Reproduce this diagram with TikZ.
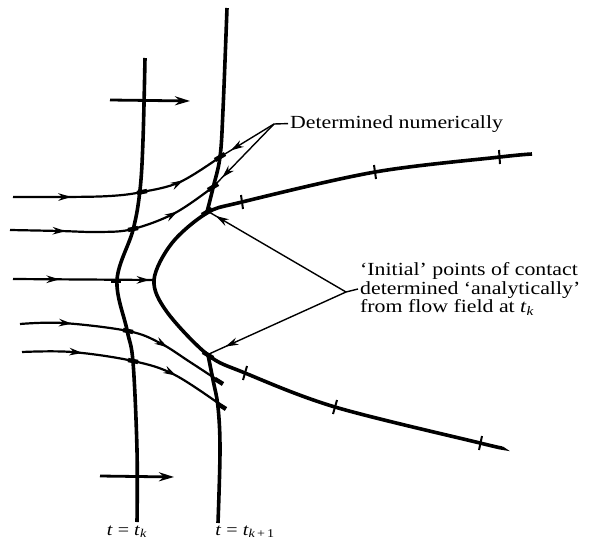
\documentclass[tikz,border=0pt]{standalone}
\usepackage{fontspec}
\setmainfont{Liberation Serif}
\newfontfamily\labelfont[FakeStretch=1.18]{Liberation Serif}
\usetikzlibrary{arrows.meta,decorations.markings}
\tikzset{
  thickcurve/.style={line width=3.6pt},
  stream/.style={line width=2.2pt},
  leader/.style={line width=1.4pt},
  midarrow/.style={postaction={decorate,decoration={markings,
      mark=at position #1 with {\arrow{Stealth[length=13pt,width=7.5pt]}}}}},
  xmark/.style={line width=4.4pt},
  tickmark/.style={line width=2pt},
  bigarrow/.style={line width=2.8pt,-{Stealth[length=15pt,width=9pt]}},
  note/.style={font=\labelfont\fontsize{18.5}{18.5}\selectfont, align=left, inner sep=0pt},
  timelabel/.style={font=\labelfont\fontsize{17}{18}\selectfont, inner sep=0pt}
}
\begin{document}
\begin{tikzpicture}[x=1pt, y=-1pt]
    \useasboundingbox (0,0) rectangle (589,549);

    % Line t = t_k
    \draw[thickcurve] plot[smooth, tension=0.6] coordinates {(145,58) (143,140) (140,190) (133,230) (117,280) (127,330) (133,362) (137,450) (137,522)};
    % Line t = t_{k+1}, upper and lower parts
    \draw[thickcurve] plot[smooth, tension=0.6] coordinates {(227,8) (223,110) (220,157) (213,188) (207,212)};
    \draw[thickcurve] plot[smooth, tension=0.6] coordinates {(208,355) (213,380) (218,407) (220,450) (218,523)};

    % Body
    \draw[thickcurve] plot[smooth, tension=0.55] coordinates {(532,154) (500,157) (375,172) (242,202) (207,213) (172,243) (154,280) (167,312) (208,355) (245,373) (335,407) (480,443) (502,448)};

    % Ticks on body
    \draw[tickmark] (241,195) -- (243,209);
    \draw[tickmark] (374,165) -- (376,179);
    \draw[tickmark] (499,150) -- (500,164);
    \draw[tickmark] (247,366) -- (243,380);
    \draw[tickmark] (337,400) -- (333,414);
    \draw[tickmark] (482,436) -- (479,450);

    % Streamlines
    \draw[stream, midarrow=0.27, midarrow=0.8] plot[smooth, tension=0.6] coordinates {(13,197) (65,197) (110,196) (142,192) (180,182) (220,157)};
    \draw[stream, midarrow=0.26, midarrow=0.8] plot[smooth, tension=0.6] coordinates {(10,230) (60,231) (100,232) (133,229) (175,213) (213,187)};
    \draw[stream, midarrow=0.33, midarrow=0.97] (13,279) -- (154,280);
    \draw[stream, midarrow=0.24, midarrow=0.7] plot[smooth, tension=0.6] coordinates {(20,324) (63,323) (128,331) (160,343) (190,362) (222,383)};
    \draw[stream, midarrow=0.28, midarrow=0.73] plot[smooth, tension=0.6] coordinates {(22,352) (72,352) (133,361) (175,375) (225,408)};

    % Crossing marks
    \draw[xmark] (137,193) -- (147,191);
    \draw[xmark] (128,230) -- (138,228);
    \draw[xmark] (111,281) -- (121,281);
    \draw[xmark] (123,330) -- (133,332);
    \draw[xmark] (128,360) -- (138,362);
    \draw[xmark] (215,160) -- (225,154);
    \draw[xmark] (208,190) -- (218,184);
    \draw[xmark] (202,215) -- (212,209);
    \draw[xmark] (203,352) -- (213,358);
    \draw[xmark] (215,379) -- (223,384);
    \draw[xmark] (218,404) -- (226,409);

    % Front motion arrows
    \draw[bigarrow] (110,100) -- (190,101);
    \draw[bigarrow] (100,476) -- (174,477);

    % Labels
    \node[note, anchor=base west] (numer) at (290,128) {Determined numerically};
    \coordinate (dn) at (274,124);
    \draw[leader] ([xshift=-2pt]numer.west) -- (dn);
    \draw[leader, midarrow=0.8] (dn) -- (220,157);
    \draw[leader, midarrow=0.85] (dn) -- (213,187);

    \node[note, anchor=west] (initial) at (360,289) {‘Initial’ points of contact\\determined ‘analytically’\\from flow field at \textit{t}\textsubscript{\textit{k}}};
    \coordinate (ip) at (346,292);
    \draw[leader] ([xshift=-2pt]initial.west) -- (ip);
    \draw[leader, midarrow=0.95] (ip) -- (209,212);
    \draw[leader, midarrow=0.88] (ip) -- (209,354);

    \node[timelabel, anchor=base] (tk) at (127,535) {\textit{t} = \textit{t}\textsubscript{\textit{k}}};
    \node[timelabel, anchor=base] (tk1) at (245,535) {\textit{t} = \textit{t}\textsubscript{\textit{k}\,+\,1}};
\end{tikzpicture}
\end{document}
